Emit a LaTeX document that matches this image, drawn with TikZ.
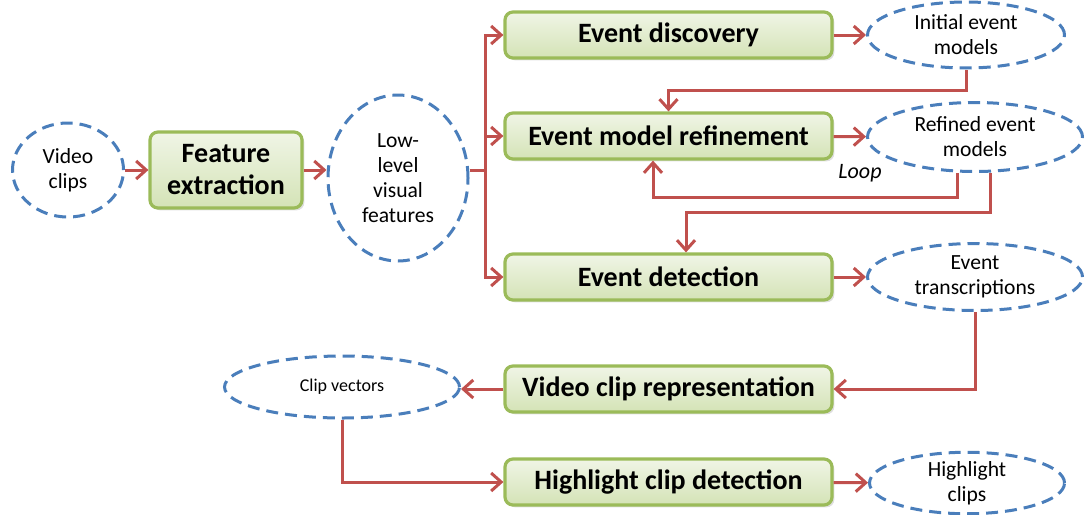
\documentclass[tikz,border=0pt]{standalone}
\usepackage{fontspec}
\setmainfont{Carlito}
\usetikzlibrary{shapes.geometric,arrows.meta,shadows,calc}
\definecolor{boxline}{HTML}{9BBB59}
\definecolor{boxtop}{HTML}{F0F5E6}
\definecolor{boxbot}{HTML}{D4E3B6}
\definecolor{ellline}{HTML}{4A7EBB}
\definecolor{arrline}{HTML}{C0504D}
\begin{document}
\begin{tikzpicture}
			[x=0.5pt,y=-0.5pt,
			stage/.style={draw=boxline,line width=1.6pt,rounded corners=4pt,
				top color=boxtop,bottom color=boxbot,
				drop shadow={shadow xshift=1.2pt,shadow yshift=-1.2pt,opacity=0.25},
				font=\bfseries\fontsize{14}{16}\selectfont,align=center,
				minimum width=163.5pt,minimum height=23pt,inner sep=0pt},
			data/.style={ellipse,draw=ellline,line width=1.5pt,dash pattern=on 6pt off 3.5pt,
				font=\fontsize{10.8}{12.5}\selectfont,align=center,inner sep=0pt},
			link/.style={draw=arrline,line width=1.5pt},
			arr/.style={link,-{Straight Barb[length=5pt,width=9pt,line width=1.5pt]}}]
			\useasboundingbox (0,0) rectangle (1085,514);
			% inputs and features
			\node[data,minimum width=55.5pt,minimum height=47pt] (vc) at (68,170) {Video\\clips};
			\node[stage,minimum width=76pt,minimum height=38pt] (fe) at (226,170) {Feature\\extraction};
			\node[data,minimum width=70pt,minimum height=83pt] (llv) at (398,178) {Low-\\level\\visual\\features};
			% processing stages
			\node[stage] (ed) at (668.5,35) {Event discovery};
			\node[stage] (emr) at (668.5,136) {Event model refinement};
			\node[stage] (det) at (668.5,277) {Event detection};
			\node[stage] (vcr) at (668.5,389) {Video clip representation};
			\node[stage] (hcd) at (668.5,482) {Highlight clip detection};
			% intermediate results
			\node[data,minimum width=98.5pt,minimum height=33pt] (iem) at (966,35) {Initial event\\models};
			\node[data,minimum width=107.5pt,minimum height=34.5pt] (rem) at (975,137) {Refined event\\models};
			\node[data,minimum width=107.5pt,minimum height=33.5pt] (et) at (975,277) {Event\\transcriptions};
			\node[data,minimum width=117.5pt,minimum height=31pt,font=\fontsize{9}{11}\selectfont] (cv) at (342,387) {Clip vectors};
			\node[data,minimum width=97.5pt,minimum height=28.5pt] (hc) at (967,483) {Highlight\\clips};
			\node[font=\itshape\fontsize{11}{12}\selectfont] (lp) at (860,173) {Loop};
			% connectors
			\coordinate (br) at (485,170);
			\coordinate (a1) at (668.5,90);
			\coordinate (l1) at (957,197);
			\coordinate (l2) at (653,197);
			\coordinate (d1) at (990,212);
			\coordinate (d2) at (686,212);
			\draw[arr] (vc) -- (fe);
			\draw[arr] (fe.east) -- (fe.east -| llv.west);
			\draw[link] (llv.east |- br) -- (br);
			\draw[arr] (br) |- (ed.west);
			\draw[arr] (br) |- (emr.west);
			\draw[arr] (br) |- (det.west);
			\draw[arr] (ed) -- (iem);
			\draw[arr] (iem.south) |- (a1) -- (emr.north);
			\draw[arr] (emr) -- (rem);
			\draw[arr] (rem.south -| l1) -- (l1) -- (l2) -- (l2 |- emr.south);
			\draw[arr] (rem.south -| d1) -- (d1) -- (d2) -- (d2 |- det.north);
			\draw[arr] (det) -- (et);
			\draw[arr] (et.south) |- (vcr.east);
			\draw[arr] (vcr.west) -- (vcr.west -| cv.east);
			\draw[arr] (cv.south) |- (hcd.west);
			\draw[arr] (hcd) -- (hc);
		\end{tikzpicture}
\end{document}
